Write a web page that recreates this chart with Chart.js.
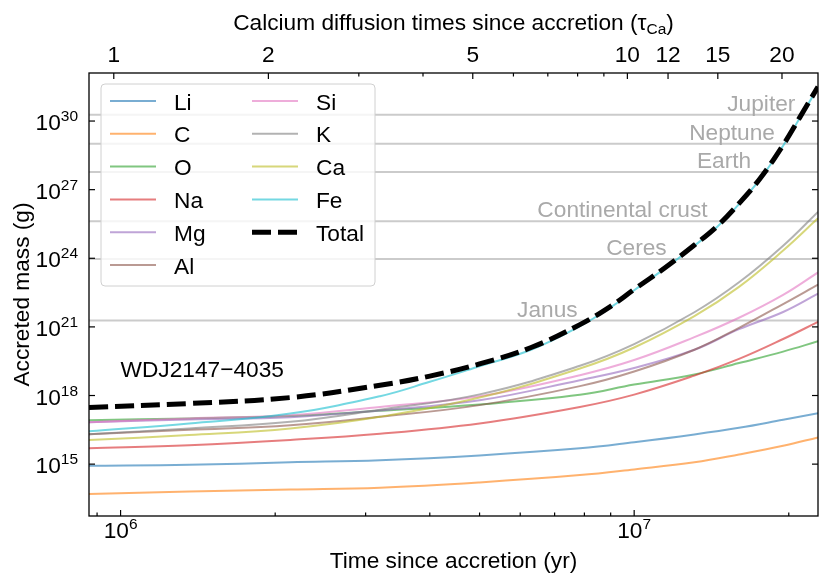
<!DOCTYPE html>
<html>
<head>
<meta charset="utf-8">
<script src="https://cdn.jsdelivr.net/npm/chart.js@4.4.0/dist/chart.umd.min.js"></script>
<style>
  html, body { margin: 0; padding: 0; background: #fff; }
  #wrap { width: 830px; height: 585px; }
</style>
</head>
<body>
<div id="wrap"><canvas id="grafico"></canvas></div>
<script>
// tempo desde a acrecao (anos)
const tempos = [8.68e5, 1.36e6, 2.14e6, 3.2e6, 5.0e6, 7.84e6, 1.0e7, 1.31e7, 1.6e7, 1.95e7, 2.28e7];
// Fe e Total sobem muito rapido no fim: mais pontos
const temposFe = [8.68e5, 1.36e6, 2.14e6, 3.2e6, 4.0e6, 5.0e6, 6.3e6, 7.84e6, 9.0e6, 1.0e7,
                  1.15e7, 1.31e7, 1.45e7, 1.6e7, 1.76e7, 1.95e7, 2.1e7, 2.28e7];

const logLi    = [14.93, 14.97, 15.08, 15.17, 15.38, 15.69, 15.96, 16.30, 16.59, 16.94, 17.22];
const logC     = [13.69, 13.80, 13.89, 13.97, 14.20, 14.52, 14.77, 15.08, 15.42, 15.80, 16.17];
const logO     = [16.92, 17.00, 17.10, 17.33, 17.61, 18.03, 18.48, 18.92, 19.42, 19.92, 20.37];
const logNa    = [15.69, 15.83, 16.06, 16.33, 16.78, 17.50, 18.04, 18.87, 19.60, 20.47, 21.22];
const logMg    = [16.83, 16.95, 17.05, 17.35, 17.79, 18.67, 19.20, 20.00, 20.90, 21.65, 22.45];
const logAl    = [16.31, 16.50, 16.70, 17.07, 17.58, 18.41, 19.05, 20.00, 20.96, 22.00, 22.85];
const logSi    = [16.83, 17.00, 17.14, 17.50, 17.97, 18.89, 19.55, 20.55, 21.40, 22.40, 23.38];
const logK     = [16.31, 16.56, 16.85, 17.38, 18.05, 19.30, 20.25, 21.64, 22.95, 24.55, 26.03];
const logCa    = [16.05, 16.27, 16.56, 17.07, 17.91, 19.18, 20.10, 21.47, 22.75, 24.34, 25.75];
const logFe    = [16.44, 16.78, 17.21, 17.97, 18.60, 19.28, 20.00, 21.03, 21.85, 22.60,
                  23.57, 24.55, 25.37, 26.37, 27.47, 28.92, 30.12, 31.47];
const logTotal = [17.48, 17.65, 17.91, 18.45, 18.85, 19.38, 20.10, 21.10, 21.90, 22.64,
                  23.60, 24.58, 25.40, 26.40, 27.50, 28.95, 30.15, 31.50];

const elementos = ['Li', 'C', 'O', 'Na', 'Mg', 'Al', 'Si', 'K', 'Ca', 'Fe'];
const series = [logLi, logC, logO, logNa, logMg, logAl, logSi, logK, logCa, logFe];

// massas de referencia (g)
const refNomes = ['Jupiter', 'Neptune', 'Earth', 'Continental crust', 'Ceres', 'Janus'];
const refMassas = [1.9e30, 1.02e29, 5.97e27, 4.2e25, 9.4e23, 1.9e21];

// eixos
const xMin = 8.68e5, xMax = 2.28e7;
const yMin = 5.4e12, yMax = 1.26e32;
const tauCa = 9.7e5;
const yTicks = [1e15, 1e18, 1e21, 1e24, 1e27, 1e30];
const xTicks = [1e6, 1e7];
const xMinor = [9e5, 2e6, 3e6, 4e6, 5e6, 6e6, 7e6, 8e6, 9e6, 2e7];
const tauTicks = [1, 2, 5, 10, 12, 15, 20];
const tauMinor = [3, 4, 6, 7, 8, 9];

// estilo
const cores = ['31,119,180', '255,127,14', '44,160,44', '214,39,40', '148,103,189',
               '140,86,75', '227,119,194', '127,127,127', '188,189,34', '23,190,207'];
const refLabelT = [2.06e7, 1.88e7, 1.69e7, 1.39e7, 1.157e7, 7.76e6];
const FONTE = '"Liberation Sans", Arial, sans-serif';
const TAM = 22.7, TAM_SUP = 15.5;
const TRACO = [19, 7];

const datasets = series.map((s, i) => {
    const ts = elementos[i] === 'Fe' ? temposFe : tempos;
    return {
        label: elementos[i],
        data: ts.map((t, k) => ({ x: t, y: Math.pow(10, s[k]) })),
        borderColor: 'rgba(' + cores[i] + ',0.6)',
        borderWidth: 2,
        pointRadius: 0,
        tension: 0.4,
        fill: false,
        order: 20 - i
    };
});
datasets.push({
    label: 'Total',
    data: temposFe.map((t, k) => ({ x: t, y: Math.pow(10, logTotal[k]) })),
    borderColor: '#000',
    borderWidth: 5,
    borderDash: TRACO,
    pointRadius: 0,
    tension: 0.4,
    fill: false,
    order: 0
});

function fonte(tam) { return tam + 'px ' + FONTE; }

function pot(ctx, exp, x, y, alinh) {
    ctx.font = fonte(TAM);
    const wb = ctx.measureText('10').width;
    ctx.font = fonte(TAM_SUP);
    const we = ctx.measureText(String(exp)).width;
    const x0 = alinh === 'right' ? x - wb - we : x - (wb + we) / 2;
    ctx.textAlign = 'left';
    ctx.textBaseline = 'alphabetic';
    ctx.font = fonte(TAM);
    ctx.fillText('10', x0, y);
    ctx.font = fonte(TAM_SUP);
    ctx.fillText(String(exp), x0 + wb, y - 9);
}

const eixos = {
    id: 'eixos',
    beforeDatasetsDraw(chart) {
        const { ctx, chartArea: a, scales: { y } } = chart;
        ctx.save();
        ctx.strokeStyle = '#cbcbcb';
        ctx.lineWidth = 2;
        refMassas.forEach(m => {
            const py = y.getPixelForValue(m);
            ctx.beginPath();
            ctx.moveTo(a.left, py);
            ctx.lineTo(a.right, py);
            ctx.stroke();
        });
        ctx.restore();
    },
    afterDatasetsDraw(chart) {
        const { ctx, chartArea: a, scales: { x, y, tau } } = chart;
        ctx.save();

        /* rotulos das massas */
        ctx.fillStyle = '#a9a9a9';
        ctx.font = fonte(TAM);
        ctx.textAlign = 'right';
        ctx.textBaseline = 'alphabetic';
        refNomes.forEach((n, i) => {
            ctx.fillText(n, x.getPixelForValue(refLabelT[i]), y.getPixelForValue(refMassas[i]) - 4);
        });

        /* nome da estrela */
        ctx.fillStyle = '#000';
        ctx.textAlign = 'left';
        ctx.fillText('WDJ2147\u22124035', x.getPixelForValue(1.0e6), y.getPixelForValue(6.3e18));

        /* ticks para dentro */
        ctx.strokeStyle = '#000';
        ctx.lineWidth = 1.2;
        const tick = (x1, y1, x2, y2) => { ctx.beginPath(); ctx.moveTo(x1, y1); ctx.lineTo(x2, y2); ctx.stroke(); };
        yTicks.forEach(v => {
            const py = y.getPixelForValue(v);
            tick(a.left, py, a.left + 6, py);
            tick(a.right, py, a.right - 6, py);
        });
        xTicks.forEach(v => { const px = x.getPixelForValue(v); tick(px, a.bottom, px, a.bottom - 6); });
        xMinor.forEach(v => { const px = x.getPixelForValue(v); tick(px, a.bottom, px, a.bottom - 3.5); });
        tauTicks.forEach(v => { const px = tau.getPixelForValue(v); tick(px, a.top, px, a.top + 6); });
        tauMinor.forEach(v => { const px = tau.getPixelForValue(v); tick(px, a.top, px, a.top + 3.5); });

        ctx.lineWidth = 1.3;
        ctx.strokeRect(a.left, a.top, a.right - a.left, a.bottom - a.top);

        /* rotulos dos ticks */
        ctx.fillStyle = '#000';
        yTicks.forEach(v => pot(ctx, Math.round(Math.log10(v)), a.left - 11, y.getPixelForValue(v) + 9, 'right'));
        xTicks.forEach(v => pot(ctx, Math.round(Math.log10(v)), x.getPixelForValue(v), a.bottom + 22, 'center'));
        ctx.font = fonte(TAM);
        ctx.textAlign = 'center';
        tauTicks.forEach(v => ctx.fillText(String(v), tau.getPixelForValue(v), a.top - 11));

        /* titulos */
        const cx = (a.left + a.right) / 2;
        ctx.fillText('Time since accretion (yr)', cx, a.bottom + 52);

        const p1 = 'Calcium diffusion times since accretion (\u03c4', p2 = 'Ca', p3 = ')';
        ctx.font = fonte(TAM);
        const w1 = ctx.measureText(p1).width, w3 = ctx.measureText(p3).width;
        ctx.font = fonte(TAM_SUP);
        const w2 = ctx.measureText(p2).width;
        let x0 = cx - (w1 + w2 + w3) / 2;
        ctx.textAlign = 'left';
        ctx.font = fonte(TAM);
        ctx.fillText(p1, x0, 30);
        ctx.font = fonte(TAM_SUP);
        ctx.fillText(p2, x0 + w1, 33.5);
        ctx.font = fonte(TAM);
        ctx.fillText(p3, x0 + w1 + w2, 30);

        ctx.save();
        ctx.translate(29, (a.top + a.bottom) / 2);
        ctx.rotate(-Math.PI / 2);
        ctx.textAlign = 'center';
        ctx.fillText('Accreted mass (g)', 0, 0);
        ctx.restore();

        /* legenda */
        const L = { x: 101, y: 84, w: 274, h: 202 };
        ctx.beginPath();
        ctx.roundRect(L.x, L.y, L.w, L.h, 4);
        ctx.fillStyle = 'rgba(255,255,255,0.8)';
        ctx.fill();
        ctx.strokeStyle = '#d0d0d0';
        ctx.lineWidth = 1;
        ctx.stroke();

        const nomes = elementos.concat(['Total']);
        ctx.font = fonte(TAM);
        ctx.textAlign = 'left';
        nomes.forEach((n, i) => {
            const col = i < 6 ? 0 : 1;
            const row = i < 6 ? i : i - 6;
            const lx = col ? 252 : 110;
            const ly = 101 + row * 32.8;
            ctx.beginPath();
            ctx.moveTo(lx, ly);
            ctx.lineTo(lx + 46, ly);
            if (n === 'Total') {
                ctx.strokeStyle = '#000';
                ctx.lineWidth = 5;
                ctx.setLineDash(TRACO);
            } else {
                ctx.strokeStyle = 'rgba(' + cores[i] + ',0.6)';
                ctx.lineWidth = 2;
                ctx.setLineDash([]);
            }
            ctx.stroke();
            ctx.setLineDash([]);
            ctx.fillStyle = '#000';
            ctx.fillText(n, lx + 64, ly + 8.5);
        });

        ctx.restore();
    }
};

const ctx = document.getElementById('grafico');

const chart = new Chart(ctx, {
    type: 'line',
    data: { datasets: datasets },
    options: {
        responsive: true,
        maintainAspectRatio: false,
        animation: false,
        layout: { padding: { left: 89, right: 12, top: 73, bottom: 69 } },
        plugins: { legend: { display: false }, tooltip: { enabled: false } },
        scales: {
            x: { type: 'logarithmic', min: xMin, max: xMax, display: false },
            y: { type: 'logarithmic', min: yMin, max: yMax, display: false },
            tau: { type: 'logarithmic', axis: 'x', position: 'top', min: xMin / tauCa, max: xMax / tauCa, display: false }
        }
    },
    plugins: [eixos]
});
</script>
</body>
</html>
